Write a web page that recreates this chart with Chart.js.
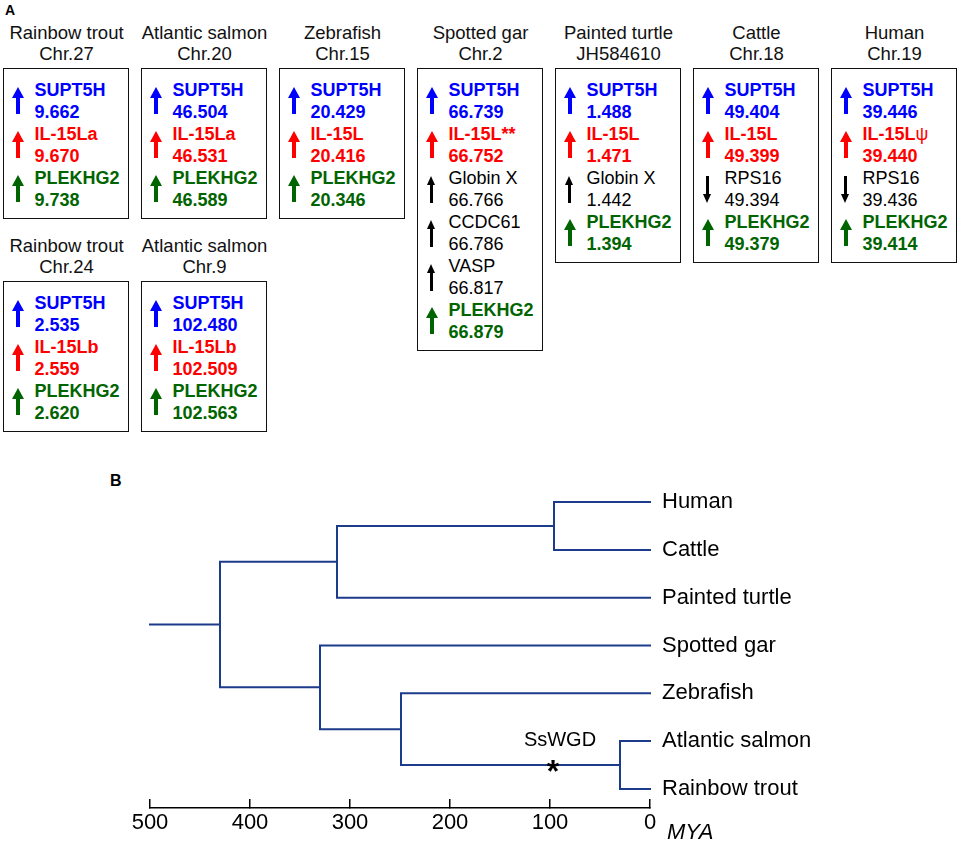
<!DOCTYPE html>
<html>
<head>
<meta charset="utf-8">
<script src="https://cdn.jsdelivr.net/npm/chart.js@4.4.1/dist/chart.umd.min.js"></script>
<style>
  body { margin: 0; background: #fff; font-family: "Liberation Sans", Arial, sans-serif; }
  #page { position: relative; width: 960px; height: 842px; overflow: hidden; }
  .panel { position: absolute; font-weight: bold; color: #000; }
  .title { position: absolute; width: 127px; text-align: center; font-size: 18.5px; line-height: 21px; color: #111; white-space: nowrap; }
  .box { position: absolute; width: 124px; border: 1.5px solid #111; padding: 9.5px 0 7.5px 0; }
  .gene { position: relative; height: 44px; font-size: 18px; line-height: 22px; }
  .gene .txt { position: absolute; left: 30.5px; top: 0; white-space: nowrap; }
  .arrow { position: absolute; height: 27px; }
  .arrow .head { width: 0; height: 0; border-style: solid; border-color: transparent; }
  .arrow .stem { margin: 0 auto; }
  #tree { position: absolute; left: 0; top: 460px; }
</style>
</head>
<body>
<div id="page">
  <div class="panel" style="left:5px; top:2px; font-size:14px;">A</div>
  <div class="panel" style="left:110px; top:472px; font-size:16px;">B</div>
  <div id="panelA"></div>
  <canvas id="tree" width="960" height="382"></canvas>
</div>
<script>
// ---- panel A: synteny boxes ----
const boxSpecies = ['Rainbow trout', 'Atlantic salmon', 'Zebrafish', 'Spotted gar', 'Painted turtle', 'Cattle', 'Human', 'Rainbow trout', 'Atlantic salmon'];
const boxChrom = ['Chr.27', 'Chr.20', 'Chr.15', 'Chr.2', 'JH584610', 'Chr.18', 'Chr.19', 'Chr.24', 'Chr.9'];
const boxGenes = [
  ['SUPT5H', 'IL-15La', 'PLEKHG2'],
  ['SUPT5H', 'IL-15La', 'PLEKHG2'],
  ['SUPT5H', 'IL-15L', 'PLEKHG2'],
  ['SUPT5H', 'IL-15L**', 'Globin X', 'CCDC61', 'VASP', 'PLEKHG2'],
  ['SUPT5H', 'IL-15L', 'Globin X', 'PLEKHG2'],
  ['SUPT5H', 'IL-15L', 'RPS16', 'PLEKHG2'],
  ['SUPT5H', 'IL-15Lψ', 'RPS16', 'PLEKHG2'],
  ['SUPT5H', 'IL-15Lb', 'PLEKHG2'],
  ['SUPT5H', 'IL-15Lb', 'PLEKHG2']
];
const boxPositions = [
  [9.662, 9.670, 9.738],
  [46.504, 46.531, 46.589],
  [20.429, 20.416, 20.346],
  [66.739, 66.752, 66.766, 66.786, 66.817, 66.879],
  [1.488, 1.471, 1.442, 1.394],
  [49.404, 49.399, 49.394, 49.379],
  [39.446, 39.440, 39.436, 39.414],
  [2.535, 2.559, 2.620],
  [102.480, 102.509, 102.563]
];
const boxStrands = [
  ['+', '+', '+'],
  ['+', '+', '+'],
  ['+', '+', '+'],
  ['+', '+', '+', '+', '+', '+'],
  ['+', '+', '+', '+'],
  ['+', '+', '-', '+'],
  ['+', '+', '-', '+'],
  ['+', '+', '+'],
  ['+', '+', '+']
];

function geneColor(name) {
  if (name === 'SUPT5H') return '#0000ff';
  if (name.startsWith('IL-15L')) return '#ff0000';
  if (name === 'PLEKHG2') return '#006400';
  return '#000000';
}

function makeArrow(color, up, thin) {
  const w = thin ? 9 : 12, s = thin ? 2.5 : 4, h = thin ? 9 : 11;
  const a = document.createElement('div');
  a.className = 'arrow';
  a.style.width = w + 'px';
  a.style.left = (13.5 - w / 2) + 'px';
  a.style.top = (thin ? 9.5 : 8.5) + 'px';
  const head = document.createElement('div');
  head.className = 'head';
  head.style.borderWidth = up ? `0 ${w / 2}px ${h}px ${w / 2}px` : `${h}px ${w / 2}px 0 ${w / 2}px`;
  if (up) head.style.borderBottomColor = color; else head.style.borderTopColor = color;
  const stem = document.createElement('div');
  stem.className = 'stem';
  stem.style.width = s + 'px';
  stem.style.height = (27 - h) + 'px';
  stem.style.background = color;
  if (up) { a.appendChild(head); a.appendChild(stem); } else { a.appendChild(stem); a.appendChild(head); }
  return a;
}

const panelA = document.getElementById('panelA');
boxSpecies.forEach((sp, i) => {
  const row = i < 7 ? 0 : 1;
  const col = i < 7 ? i : i - 7;
  const left = 3 + col * 138;
  const top = row === 0 ? 68 : 281;

  const t = document.createElement('div');
  t.className = 'title';
  t.style.left = left + 'px';
  t.style.top = (top - 46.5) + 'px';
  t.innerHTML = sp + '<br>' + boxChrom[i];
  panelA.appendChild(t);

  const box = document.createElement('div');
  box.className = 'box';
  box.style.left = left + 'px';
  box.style.top = top + 'px';
  boxGenes[i].forEach((g, j) => {
    const color = geneColor(g);
    const black = color === '#000000';
    const gene = document.createElement('div');
    gene.className = 'gene';
    gene.appendChild(makeArrow(color, boxStrands[i][j] === '+', black));
    const txt = document.createElement('div');
    txt.className = 'txt';
    txt.style.color = color;
    txt.style.fontWeight = black ? 'normal' : 'bold';
    const label = g.endsWith('ψ') ? g.slice(0, -1) + '<span style="font-weight:normal">ψ</span>' : g;
    txt.innerHTML = label + '<br>' + boxPositions[i][j].toFixed(3);
    gene.appendChild(txt);
    box.appendChild(gene);
  });
  panelA.appendChild(box);
});

// ---- panel B: time tree ----
const leafNames = ['Human', 'Cattle', 'Painted turtle', 'Spotted gar', 'Zebrafish', 'Atlantic salmon', 'Rainbow trout'];
const nodeNames = ['root', 'tetrapods', 'mammals', 'rayfinned', 'teleosts', 'salmonids'];
const nodeAges = [430, 313, 96, 330, 249, 30];
const nodeChildren = [
  ['tetrapods', 'rayfinned'],
  ['mammals', 'Painted turtle'],
  ['Human', 'Cattle'],
  ['Spotted gar', 'teleosts'],
  ['Zebrafish', 'salmonids'],
  ['Atlantic salmon', 'Rainbow trout']
];
const rootStemAge = 500;
const axisTicks = [500, 400, 300, 200, 100, 0];
const wgdAge = 97;
const wgdLabel = 'SsWGD';
const treeColor = '#1c3b8b';

function ageOf(name) {
  const k = nodeNames.indexOf(name);
  return k < 0 ? 0 : nodeAges[k];
}
function rowOf(name) {
  const k = nodeNames.indexOf(name);
  if (k < 0) return leafNames.indexOf(name);
  const c = nodeChildren[k];
  return (rowOf(c[0]) + rowOf(c[1])) / 2;
}

const datasets = [];
const rootRow = rowOf('root');
datasets.push({ data: [{ x: rootStemAge, y: rootRow }, { x: ageOf('root'), y: rootRow }] });
nodeNames.forEach((n, k) => {
  nodeChildren[k].forEach((c) => {
    datasets.push({
      data: [
        { x: nodeAges[k], y: rowOf(n) },
        { x: nodeAges[k], y: rowOf(c) },
        { x: ageOf(c), y: rowOf(c) }
      ]
    });
  });
});
datasets.forEach((d) => {
  d.showLine = true;
  d.borderColor = treeColor;
  d.borderWidth = 2;
  d.pointRadius = 0;
  d.fill = false;
  d.clip = false;
  d.borderCapStyle = 'square';
});

// asterisk, SsWGD label and the MYA unit
const treeNotes = {
  id: 'treeNotes',
  afterDatasetsDraw(chart) {
    const { ctx, scales } = chart;
    const xs = scales.x, ys = scales.y;
    const lineY = ys.getPixelForValue(rowOf('salmonids'));
    ctx.save();
    ctx.fillStyle = '#000';
    ctx.font = 'bold 32px "Liberation Sans", Arial, sans-serif';
    ctx.textAlign = 'center';
    ctx.textBaseline = 'alphabetic';
    const m = ctx.measureText('*');
    const mid = (m.actualBoundingBoxAscent - m.actualBoundingBoxDescent) / 2;
    ctx.fillText('*', xs.getPixelForValue(wgdAge), lineY + 1.5 + mid);
    ctx.font = '20px "Liberation Sans", Arial, sans-serif';
    ctx.textBaseline = 'middle';
    ctx.fillText(wgdLabel, xs.getPixelForValue(wgdAge) + 7, lineY - 25);
    ctx.font = 'italic 22px "Liberation Sans", Arial, sans-serif';
    ctx.textAlign = 'left';
    ctx.fillText('MYA', xs.right + 17, 373);
    ctx.restore();
  }
};

Chart.defaults.font.family = '"Liberation Sans", Arial, sans-serif';
Chart.defaults.color = '#000';

new Chart(document.getElementById('tree'), {
  type: 'scatter',
  data: { datasets },
  options: {
    responsive: false,
    animation: false,
    layout: { padding: { left: 150, top: 13.6, right: 0, bottom: 0 } },
    plugins: { legend: { display: false }, tooltip: { enabled: false } },
    scales: {
      x: {
        type: 'linear',
        min: 0,
        max: 500,
        reverse: true,
        afterBuildTicks: (scale) => { scale.ticks = axisTicks.map((v) => ({ value: v })); },
        afterFit: (scale) => { scale.height = 34; },
        border: { display: true, color: '#000', width: 1.5 },
        grid: { display: true, drawOnChartArea: false, drawTicks: true, tickLength: -9, color: '#000', lineWidth: 1.5 },
        ticks: { font: { size: 22 }, padding: 11, color: '#000', maxRotation: 0 }
      },
      y: {
        type: 'linear',
        position: 'right',
        min: -0.4,
        max: 6.4,
        reverse: true,
        afterBuildTicks: (scale) => { scale.ticks = leafNames.map((n, i) => ({ value: i })); },
        afterFit: (scale) => { scale.width = 310; },
        border: { display: false },
        grid: { display: false, drawTicks: false },
        ticks: {
          font: { size: 22, lineHeight: 1 },
          padding: 12,
          color: '#000',
          callback: (v) => leafNames[v]
        }
      }
    }
  },
  plugins: [treeNotes]
});
</script>
</body>
</html>
